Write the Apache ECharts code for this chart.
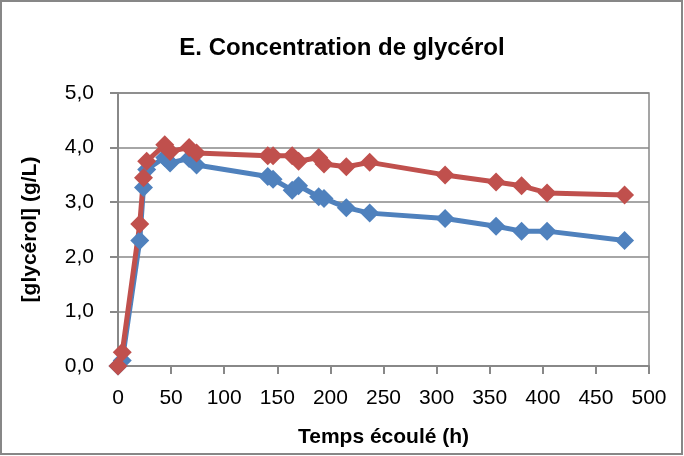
<!DOCTYPE html>
<html><head><meta charset="utf-8">
<script src="https://cdn.jsdelivr.net/npm/echarts@6/dist/echarts.min.js"></script>
<style>html,body{margin:0;padding:0;background:#fff}#c{width:684px;height:456px}</style>
</head><body><div id="c"></div>
<script>
const hours = [0, 4, 20.5, 24, 27, 44, 49, 67, 74, 141, 146, 164, 170, 189, 194, 215, 237, 308, 356, 380, 404, 477];
const seriesA = [0, 0.1, 2.3, 3.27, 3.6, 3.82, 3.72, 3.8, 3.68, 3.47, 3.42, 3.22, 3.3, 3.1, 3.07, 2.9, 2.8, 2.7, 2.56, 2.47, 2.47, 2.3];
const seriesB = [0, 0.25, 2.6, 3.45, 3.75, 4.05, 3.93, 4.0, 3.9, 3.85, 3.85, 3.85, 3.75, 3.82, 3.7, 3.65, 3.73, 3.5, 3.37, 3.3, 3.17, 3.13];
const titleText = 'E. Concentration de glycérol';
const xName = 'Temps écoulé (h)';
const yName = '[glycérol] (g/L)';

const pairs = (xs, ys) => xs.map((x, i) => [x, ys[i]]);
const font = 'Liberation Sans';
const chart = echarts.init(document.getElementById('c'));
chart.setOption({
  animation: false,
  graphic: [{type: 'rect', shape: {x: 1, y: 1, width: 681, height: 453}, style: {fill: 'none', stroke: '#878787', lineWidth: 2}}],
  title: {text: titleText, left: 'center', top: 31, textStyle: {fontFamily: font, fontWeight: 'bold', fontSize: 24, color: '#000'}},
  grid: {left: 118, right: 35, top: 93, bottom: 90, show: true, borderColor: '#888', borderWidth: 1.5},
  xAxis: {
    type: 'value', min: 0, max: 500, interval: 50,
    name: xName, nameLocation: 'middle', nameGap: 61,
    nameTextStyle: {fontFamily: font, fontWeight: 'bold', fontSize: 21, color: '#000'},
    axisLine: {lineStyle: {color: '#888', width: 2}},
    axisTick: {show: true, length: 8, lineStyle: {color: '#888', width: 2}},
    axisLabel: {fontFamily: font, fontSize: 21, color: '#000', margin: 22},
    splitLine: {show: false}
  },
  yAxis: {
    type: 'value', min: 0, max: 5, interval: 1,
    name: yName, nameLocation: 'middle', nameGap: 77,
    nameTextStyle: {fontFamily: font, fontWeight: 'bold', fontSize: 21, color: '#000'},
    axisLine: {show: true, lineStyle: {color: '#888', width: 2}},
    axisTick: {show: true, length: 8, lineStyle: {color: '#888', width: 2}},
    axisLabel: {fontFamily: font, fontSize: 21, color: '#000', margin: 24, formatter: v => v.toFixed(1).replace('.', ',')},
    splitLine: {show: true, lineStyle: {color: '#888', width: 1.5}}
  },
  series: [
    {type: 'line', data: pairs(hours, seriesA), symbol: 'diamond', symbolSize: 19, color: '#4F81BD',
     lineStyle: {width: 5, color: '#4F81BD'}, itemStyle: {color: '#4F81BD'}},
    {type: 'line', data: pairs(hours, seriesB), symbol: 'diamond', symbolSize: 19, color: '#C0504D',
     lineStyle: {width: 5, color: '#C0504D'}, itemStyle: {color: '#C0504D'}}
  ]
});
</script></body></html>
